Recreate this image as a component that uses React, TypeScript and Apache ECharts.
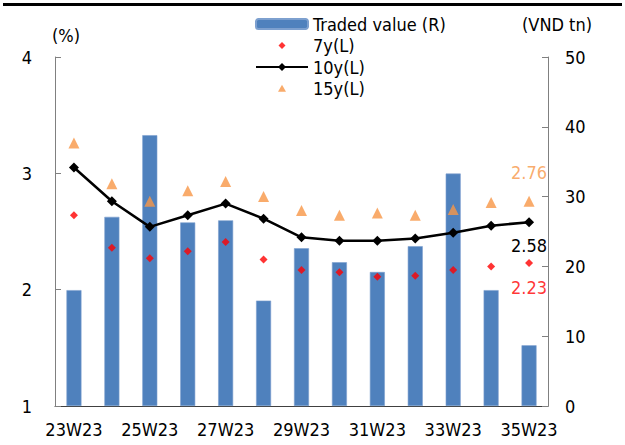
import React, { useEffect, useRef } from "react";
import * as echarts from "echarts";

const weeks = ["23W23", "24W23", "25W23", "26W23", "27W23", "28W23", "29W23", "30W23", "31W23", "32W23", "33W23", "34W23", "35W23"];
const tradedValue = [16.6, 27.1, 38.8, 26.3, 26.6, 15.1, 22.6, 20.6, 19.2, 22.9, 33.3, 16.6, 8.7];
const y7 = [2.64, 2.36, 2.27, 2.33, 2.41, 2.26, 2.17, 2.15, 2.11, 2.12, 2.17, 2.2, 2.23];
const y10 = [3.05, 2.76, 2.54, 2.64, 2.74, 2.61, 2.45, 2.42, 2.42, 2.44, 2.49, 2.55, 2.58];
const y15 = [3.26, 2.91, 2.76, 2.85, 2.93, 2.8, 2.68, 2.64, 2.66, 2.64, 2.69, 2.75, 2.76];
const leftTicks = { min: 1, max: 4, interval: 1 };
const rightTicks = { min: 0, max: 50, interval: 10 };

const FONT = "'DejaVu Sans Condensed', 'DejaVu Sans', sans-serif";

const DIAMOND_ICON = "path://M-1,-1 M1,1 M0,-0.7 L0.7,0 L0,0.7 L-0.7,0 Z";
const TRIANGLE_ICON = "path://M-1,-1 M1,1 M0,-0.75 L0.8,0.65 L-0.8,0.65 Z";

function lastLabel(arr: number[], color: string, position: string, distance: number) {
  return arr.map((v, i) =>
    i === arr.length - 1
      ? { value: v, label: { show: true, position, distance, color, fontSize: 18, fontFamily: FONT, formatter: v.toFixed(2) } }
      : v
  );
}

export default function App() {
  const ref = useRef<HTMLDivElement>(null);
  useEffect(() => {
    if (!ref.current) return;
    const chart = echarts.init(ref.current, undefined, { renderer: "svg" });
    chart.setOption({
      animation: false,
      textStyle: { fontFamily: FONT },
      grid: { left: 55, right: 77, top: 57, bottom: 39, containLabel: false },
      legend: {
        orient: "vertical",
        left: 255,
        top: 15,
        padding: 0,
        itemWidth: 52,
        itemHeight: 10,
        itemGap: 3.5,
        symbolKeepAspect: true,
        textStyle: { fontSize: 18, color: "#000", fontFamily: FONT },
        data: [
          { name: "Traded value (R)" },
          { name: "7y(L)", icon: DIAMOND_ICON },
          { name: "10y(L)" },
          { name: "15y(L)", icon: TRIANGLE_ICON },
        ],
      },
      graphic: [
        { type: "rect", shape: { x: 3, y: 3, width: 619, height: 3 }, style: { fill: "#000" } },
        { type: "text", left: 52, top: 26, style: { text: "(%)", fontSize: 18, fontFamily: FONT, fill: "#000" } },
        { type: "text", left: 522, top: 15, style: { text: "(VND tn)", fontSize: 18, fontFamily: FONT, fill: "#000" } },
      ],
      xAxis: {
        type: "category",
        data: weeks,
        boundaryGap: true,
        axisLine: { lineStyle: { color: "#404040", width: 1 } },
        axisTick: { inside: true, length: 5, interval: 0, lineStyle: { color: "#404040" } },
        axisLabel: { interval: 1, fontSize: 18, color: "#000", margin: 14, fontFamily: FONT },
        splitLine: { show: false },
      },
      yAxis: [
        {
          type: "value",
          ...leftTicks,
          position: "left",
          axisLine: { show: true, lineStyle: { color: "#808080" } },
          axisTick: { show: true, inside: true, length: 6, lineStyle: { color: "#808080" } },
          axisLabel: { fontSize: 18, color: "#000", margin: 23, fontFamily: FONT },
          splitLine: { show: false },
        },
        {
          type: "value",
          ...rightTicks,
          position: "right",
          axisLine: { show: true, lineStyle: { color: "#808080" } },
          axisTick: { show: true, inside: true, length: 6, lineStyle: { color: "#808080" } },
          axisLabel: { fontSize: 18, color: "#000", margin: 17, fontFamily: FONT },
          splitLine: { show: false },
        },
      ],
      series: [
        {
          name: "Traded value (R)",
          type: "bar",
          yAxisIndex: 1,
          data: tradedValue,
          barWidth: 15,
          itemStyle: { color: "#4f81bd", borderColor: "#7da0cf", borderWidth: 0.6 },
          z: 1,
        },
        {
          name: "10y(L)",
          type: "line",
          yAxisIndex: 0,
          data: lastLabel(y10, "#000", "bottom", 9),
          symbol: "diamond",
          symbolSize: 10,
          lineStyle: { color: "#000", width: 2.5 },
          itemStyle: { color: "#000" },
          z: 3,
        },
        {
          name: "7y(L)",
          type: "scatter",
          yAxisIndex: 0,
          data: lastLabel(y7, "#ff0000", "bottom", 12),
          symbol: "diamond",
          symbolSize: 8,
          itemStyle: { color: "#ff0000" },
          z: 4,
        },
        {
          name: "15y(L)",
          type: "scatter",
          yAxisIndex: 0,
          data: lastLabel(y15, "#f79646", "top", 14),
          symbol: "triangle",
          symbolSize: 11,
          itemStyle: { color: "#f79646" },
          z: 4,
        },
      ],
    });
    return () => chart.dispose();
  }, []);
  return <div ref={ref} style={{ position: "fixed", left: 0, top: 0, width: 625, height: 445, background: "#fff" }} />;
}
